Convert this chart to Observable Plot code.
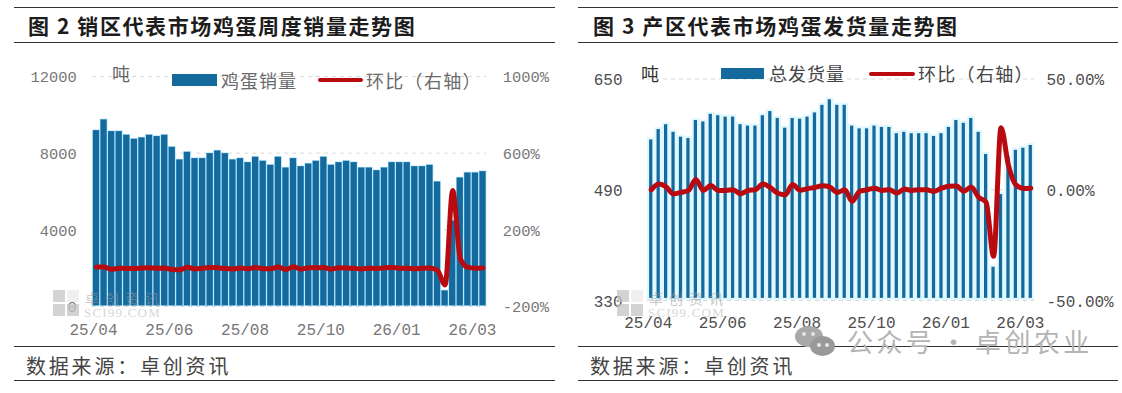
<!DOCTYPE html>
<html lang="zh">
<head>
<meta charset="utf-8">
<script src="https://cdn.jsdelivr.net/npm/d3@7"></script>
<script src="https://cdn.jsdelivr.net/npm/@observablehq/plot@0.6"></script>
<style>
html,body{margin:0;padding:0;background:#fff;}
#page{position:relative;width:1122px;height:393px;overflow:hidden;font-family:"Noto Sans CJK SC",sans-serif;}
#page svg{position:absolute;left:0;top:0;background:transparent;overflow:visible;}
.abs{position:absolute;white-space:nowrap;line-height:1;}
.rule{position:absolute;background:#333;height:1px;}
.title{font-weight:700;font-size:21px;letter-spacing:1.6px;color:#1c1c1c;}
.foot{font-size:20px;letter-spacing:2.8px;color:#444;}
.lg{font-size:18px;}
.sw{position:absolute;background:#156a9d;}
.rl{position:absolute;background:#b90a10;height:4.5px;border-radius:3px;}
.wm{position:absolute;background:#c4c4c4;opacity:.75;}
.wt{position:absolute;white-space:nowrap;line-height:1;color:#9a9a9a;opacity:.55;}
.bub{position:absolute;background:#a9a9a9;border-radius:50%;}
</style>
</head>
<body>
<div id="page"></div>
<script>
const tickIndex = [0, 10, 20, 30, 40, 50];
const tickLabels = ["25/04", "25/06", "25/08", "25/10", "26/01", "26/03"];

const salesVolume = [9210,9770,9160,9160,8970,8760,8830,8970,8900,8970,8340,7680,8080,7750,7750,8010,8150,8010,7680,7750,7540,7820,7610,7400,7820,7260,7750,7330,7470,7610,7820,7400,7540,7610,7540,7260,7260,7120,7260,7540,7540,7540,7330,7330,7400,6530,850,4490,6740,7000,7000,7070];
const salesChange = [6,6,-6,0,-2,-2,1,2,-1,1,-7,-8,5,-4,0,3,2,-2,-4,1,-3,4,-3,-3,6,-7,7,-5,2,2,3,-5,2,1,-1,-4,0,-2,2,4,0,0,-3,0,1,-12,-88,405,50,4,0,1];

const shipVolume = [565,580,587,576,569,567,593,591,602,600,598,598,587,585,585,600,606,596,582,596,595,598,604,615,623,615,615,585,581,581,585,583,583,574,576,574,574,574,570,574,583,593,589,596,576,544,381,486,540,550,553,557];
const shipChange = [0,2.6,1.3,-1.9,-1.2,-0.3,4.6,-0.3,1.9,-0.3,-0.3,0,-1.8,-0.3,0,2.6,1,-1.6,-2.3,2.4,-0.2,0.5,1,1.8,1.2,-1.2,0,-5.2,-0.7,0,0.7,-0.3,0,-1.5,0.3,-0.3,0,0,-0.7,0.7,1.6,1.7,-0.7,1.2,-3.4,-5.6,-30,28,11,2.2,0.6,0.7];

const page = document.getElementById("page");

function add(cls, text, style) {
  const d = document.createElement("div");
  d.className = cls;
  if (text) d.textContent = text;
  Object.assign(d.style, style);
  page.appendChild(d);
  return d;
}

function chart(o) {
  const rows = o.volume.map((v, i) => ({i, v, c: o.change[i]}));
  const toLeft = d3.scaleLinear(o.rightDomain, o.leftDomain);
  const svg = Plot.plot({
    width: o.width, height: 345,
    marginLeft: o.x0, marginRight: o.width - o.x1,
    marginTop: o.yTop, marginBottom: 345 - o.yBase,
    style: {background: "transparent", fontFamily: "'Liberation Mono', monospace", fontSize: o.font + "px"},
    x: {type: "band", domain: d3.range(o.volume.length), padding: 0, round: false, axis: null},
    y: {domain: o.leftDomain, axis: null},
    marks: [
      Plot.ruleY(o.leftTicks, {stroke: "#d8d8d8", strokeDasharray: "4 4", strokeWidth: 1}),
      Plot.barY(rows, {x: "i", y1: () => o.leftDomain[0], y2: "v", fill: o.gap}),
      Plot.barY(rows, {x: "i", y1: () => o.leftDomain[0], y2: "v", fill: "#156a9d", inset: o.inset}),
      Plot.line(rows, {x: "i", y: d => toLeft(d.c), stroke: "#b90a10", strokeWidth: 5, curve: "monotone-x", strokeLinejoin: "round", strokeLinecap: "round"}),
      Plot.axisX(tickIndex, {tickSize: 0, tickPadding: o.xPad, dx: -3, color: o.tickColor, fontSize: 16, tickFormat: i => tickLabels[tickIndex.indexOf(i)], label: null}),
      Plot.axisY(o.leftTicks, {anchor: "left", tickSize: 0, tickPadding: o.yPadL, dy: 1, color: o.tickColor, label: null, tickFormat: d => String(d)}),
      Plot.axisY(o.leftTicks, {anchor: "right", tickSize: 0, tickPadding: o.yPadR, dy: 1, color: o.tickColor, label: null, tickFormat: d => o.rightFormat(toLeft.invert(d))})
    ]
  });
  page.appendChild(svg);
}

chart({
  volume: salesVolume, change: salesChange, width: 561,
  x0: 92.2, x1: 486.3, yTop: 76, yBase: 306,
  leftDomain: [0, 12000], rightDomain: [-200, 1000], leftTicks: [0, 4000, 8000, 12000],
  rightFormat: v => Math.round(v) + "%",
  gap: "#a8e0fb", inset: 0.65, font: 15.4, tickColor: "#777",
  xPad: 17, yPadL: 16, yPadR: 16
});
chart({
  volume: shipVolume, change: shipChange, width: 1122,
  x0: 647, x1: 1034, yTop: 78.5, yBase: 300,
  leftDomain: [330, 650], rightDomain: [-50, 50], leftTicks: [330, 490, 650],
  rightFormat: v => v.toFixed(2) + "%",
  gap: "#dff7ff", inset: 2.1, font: 16, tickColor: "#4d4d4d",
  xPad: 16, yPadL: 25, yPadR: 12
});

// frame rules
[[14, 541, 7], [14, 541, 42], [14, 541, 346], [14, 541, 380],
 [578, 540, 7], [578, 540, 42], [578, 540, 346], [578, 540, 380]].forEach(([l, w, t]) =>
  add("rule", "", {left: l + "px", width: w + "px", top: t + "px"}));

// titles and sources
add("abs title", "图 2 销区代表市场鸡蛋周度销量走势图", {left: "28px", top: "15px"});
add("abs title", "图 3 产区代表市场鸡蛋发货量走势图", {left: "593px", top: "15px"});
add("abs foot", "数据来源：卓创资讯", {left: "26px", top: "356px"});
add("abs foot", "数据来源：卓创资讯", {left: "590px", top: "356px"});

// legends
add("sw", "", {left: "172px", top: "74px", width: "45px", height: "11.5px"});
add("abs lg", "鸡蛋销量", {left: "221px", top: "71px", color: "#6a6a6a", letterSpacing: "1px"});
add("rl", "", {left: "318px", top: "77.8px", width: "45px"});
add("abs lg", "环比（右轴）", {left: "366px", top: "71px", color: "#6a6a6a", letterSpacing: "1.3px"});
add("abs lg", "吨", {left: "112px", top: "64px", color: "#666"});

add("sw", "", {left: "721px", top: "68px", width: "43px", height: "11.3px"});
add("abs lg", "总发货量", {left: "769px", top: "64px", color: "#444", letterSpacing: "1px"});
add("rl", "", {left: "869px", top: "71.5px", width: "46px"});
add("abs lg", "环比（右轴）", {left: "918px", top: "64px", color: "#444", letterSpacing: "1.3px"});
add("abs lg", "吨", {left: "641px", top: "64px", color: "#333"});

// watermarks
function logo(x) {
  add("wm", "", {left: x + "px", top: "290px", width: "12px", height: "12px"});
  add("wm", "", {left: x + 14 + "px", top: "290px", width: "12px", height: "12px", opacity: .25});
  add("wm", "", {left: x + "px", top: "304px", width: "12px", height: "12px"});
  add("wm", "", {left: x + 14 + "px", top: "304px", width: "12px", height: "12px"});
  add("wt", "卓创资讯", {left: x + 32 + "px", top: "291px", fontSize: "14px", letterSpacing: "6px"});
  add("wt", "SCI99.COM", {left: x + 31 + "px", top: "306px", fontSize: "13px", fontFamily: "'Liberation Serif',serif", letterSpacing: "1.2px", opacity: .4});
}
logo(53);
logo(617);

add("bub", "", {left: "795px", top: "326px", width: "28px", height: "21px"});
add("bub", "", {left: "810px", top: "336px", width: "25px", height: "20px", background: "#999"});
[[802, 332], [811, 332], [817, 343], [825, 343]].forEach(([l, t]) =>
  add("bub", "", {left: l + "px", top: t + "px", width: "4px", height: "4px", background: "#e6e6e6"}));
add("abs", "公众号 · 卓创农业", {left: "847px", top: "328px", fontSize: "26px", letterSpacing: "3.4px", wordSpacing: "-4px", color: "#b4b4b4"});
</script>
</body>
</html>
